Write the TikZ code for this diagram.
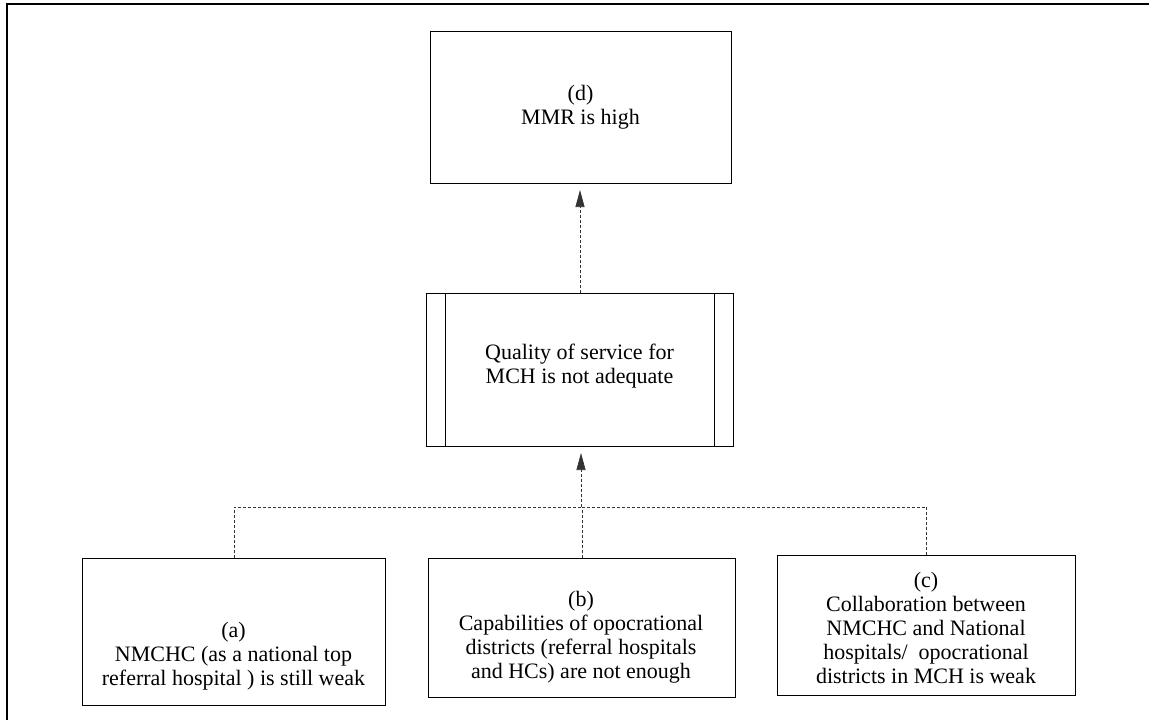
\documentclass[tikz,border=0pt]{standalone}
\usepackage{fontspec}
\setmainfont{Liberation Serif}
\usetikzlibrary{arrows.meta}
\begin{document}
\begin{tikzpicture}[x=1pt,y=-1pt,
  box/.style={draw=black,line width=1pt,inner sep=0pt,anchor=north west},
  txt/.style={align=center,font=\fontsize{22}{24}\selectfont,inner sep=0pt},
  link/.style={draw=black!80,line width=0.7pt,densely dashed},
  up/.style={link,-{Triangle[length=17pt,width=9pt]},shorten >=6pt}]
\useasboundingbox (0,0) rectangle (1149,720);
% outer frame
\draw[line width=1.8pt] (7,720) -- (7,4) -- (1149,4);

% boxes
\node[box,minimum width=301pt,minimum height=152pt] (d) at (430,31) {};
\node[box,minimum width=307pt,minimum height=153pt] (q) at (426,293) {};
\node[box,minimum width=303pt,minimum height=147pt] (a) at (82,558) {};
\node[box,minimum width=307pt,minimum height=139pt] (b) at (428,558) {};
\node[box,minimum width=298pt,minimum height=140pt] (c) at (777,555) {};

% side bars of the process box
\draw[line width=0.8pt] ([xshift=19pt]q.north west) -- ([xshift=19pt]q.south west);
\draw[line width=0.8pt] ([xshift=-20pt]q.north east) -- ([xshift=-20pt]q.south east);

% texts
\node[txt] (dt) at (580.5,107) {(d)\\MMR is high};
\node[txt] (qt) at (579.5,366) {Quality of service for\\MCH is not adequate};
\node[txt] (at) at (233.5,656) {(a)\\NMCHC (as a national top\\referral hospital ) is still weak};
\node[txt] (bt) at (581,637) {(b)\\Capabilities of opocrational\\districts (referral hospitals\\and HCs) are not enough};
\node[txt] (ct) at (926,628) {(c)\\Collaboration between\\NMCHC and National\\hospitals/ \ opocrational\\districts in MCH is weak};

% connectors
\coordinate (j) at (581,507);
\draw[link] (a.north) |- (j);
\draw[link] (c.north) |- (j);
\draw[link] (b.north) -- (b.north |- j);
\draw[up] (j) -- (j |- q.south);
\draw[up] (q.north) -- (q.north |- d.south);
\end{tikzpicture}
\end{document}
